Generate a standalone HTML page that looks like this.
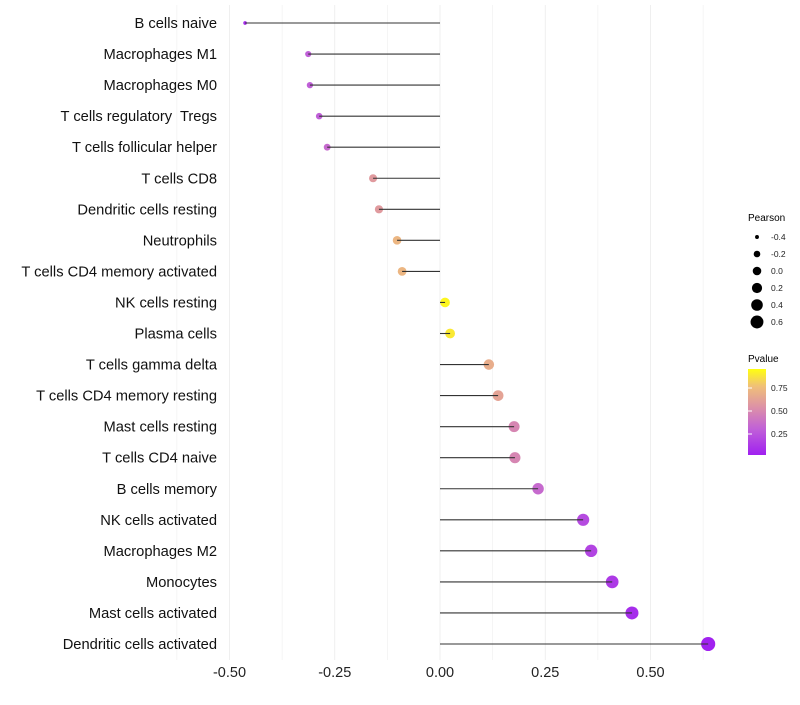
<!DOCTYPE html>
<html><head><meta charset="utf-8"><style>
body{margin:0;background:#fff;font-family:"Liberation Sans",sans-serif}
text{white-space:pre}
</style></head><body>
<svg id="chart" width="800" height="700" xmlns="http://www.w3.org/2000/svg">
<defs><linearGradient id="pg" x1="0" y1="1" x2="0" y2="0">
<stop offset="0" stop-color="#a020f0"/><stop offset="0.3" stop-color="#c060d8"/><stop offset="0.55" stop-color="#dc90a8"/><stop offset="0.8" stop-color="#f0c078"/><stop offset="1" stop-color="#ffff10"/></linearGradient></defs>
<g id="grid"></g><g id="dots"></g><g id="marks"></g><g id="labels"></g>
<g font-size="9" fill="#000">
<text x="748" y="221" font-size="10">Pearson</text>
</g>
<g id="sizeleg"></g>
<g>
<text x="748" y="362" font-size="10">Pvalue</text>
<rect x="748" y="369" width="18" height="86" fill="url(#pg)"/>
</g>
<g id="colleg"></g>
</svg>
<script>
const categories=["B cells naive","Macrophages M1","Macrophages M0","T cells regulatory  Tregs","T cells follicular helper","T cells CD8","Dendritic cells resting","Neutrophils","T cells CD4 memory activated","NK cells resting","Plasma cells","T cells gamma delta","T cells CD4 memory resting","Mast cells resting","T cells CD4 naive","B cells memory","NK cells activated","Macrophages M2","Monocytes","Mast cells activated","Dendritic cells activated"];
const pearson=[-0.463,-0.313,-0.309,-0.287,-0.268,-0.159,-0.145,-0.102,-0.090,0.012,0.024,0.116,0.138,0.176,0.178,0.233,0.340,0.359,0.409,0.456,0.637];
const pvalue=[0.05,0.3,0.3,0.3,0.35,0.6,0.6,0.75,0.75,0.97,0.93,0.7,0.65,0.5,0.5,0.35,0.2,0.17,0.12,0.06,0.01];
const xTicks=[-0.5,-0.25,0,0.25,0.5];
const xTickLabels=["-0.50","-0.25","0.00","0.25","0.50"];
const sizeLegend=[-0.4,-0.2,0.0,0.2,0.4,0.6];
const sizeLegendLabels=["-0.4","-0.2","0.0","0.2","0.4","0.6"];
const colorTicks=[0.75,0.50,0.25];
const colorTickLabels=["0.75","0.50","0.25"];
const NS="http://www.w3.org/2000/svg";
const x=v=>440+v*421;
const y=i=>23+i*31.05;
const r=v=>Math.sqrt(3+(v+0.47)*(50-3)/1.11);
const stops=[[0,[160,32,240]],[0.3,[192,96,216]],[0.55,[220,144,168]],[0.8,[240,192,120]],[1,[255,255,16]]];
function col(p){for(let k=1;k<stops.length;k++){if(p<=stops[k][0]){const a=stops[k-1],b=stops[k],t=(p-a[0])/(b[0]-a[0]);return "rgb("+a[1].map((c,j)=>Math.round(c+(b[1][j]-c)*t)).join(",")+")";}}return "rgb(255,255,16)";}
function mk(t,a,parent){const e=document.createElementNS(NS,t);for(const k in a)e.setAttribute(k,a[k]);document.getElementById(parent).appendChild(e);return e;}
for(let v=-0.625;v<=0.626;v+=0.125){const g=mk("line",{x1:x(v),x2:x(v),y1:5,y2:660,stroke:"#ebebeb","stroke-width":Math.abs((v/0.25)-Math.round(v/0.25))<1e-6?0.8:0.5},"grid");

}
xTicks.forEach((v,i)=>{const t=mk("text",{x:x(v),y:677,"text-anchor":"middle","font-size":14.5,fill:"#222"},"labels");t.textContent=xTickLabels[i];

});
categories.forEach((c,i)=>{
const t=mk("text",{x:217,y:y(i)+5,"text-anchor":"end","font-size":14.7,fill:"#111"},"labels");t.textContent=c;


const d=mk("circle",{cx:x(pearson[i]),cy:y(i),r:r(pearson[i]),fill:col(pvalue[i])},"dots");


const l=mk("line",{x1:x(0),x2:x(pearson[i]),y1:y(i),y2:y(i),stroke:"#333","stroke-width":1.1},"marks");


});
sizeLegend.forEach((v,i)=>{const cy=237+i*17;
const d=mk("circle",{cx:757,cy:cy,r:r(v)-0.5,fill:"#000"},"sizeleg");


const t=mk("text",{x:771,y:cy+3,"font-size":8.5,fill:"#222"},"sizeleg");t.textContent=sizeLegendLabels[i];

});
colorTicks.forEach((v,i)=>{const cy=457-v*92;
const l=mk("line",{x1:748,x2:752,y1:cy,y2:cy,stroke:"#fff"},"colleg");


const t=mk("text",{x:771,y:cy+3,"font-size":8.5,fill:"#222"},"colleg");t.textContent=colorTickLabels[i];

});
</script>
</body></html>
